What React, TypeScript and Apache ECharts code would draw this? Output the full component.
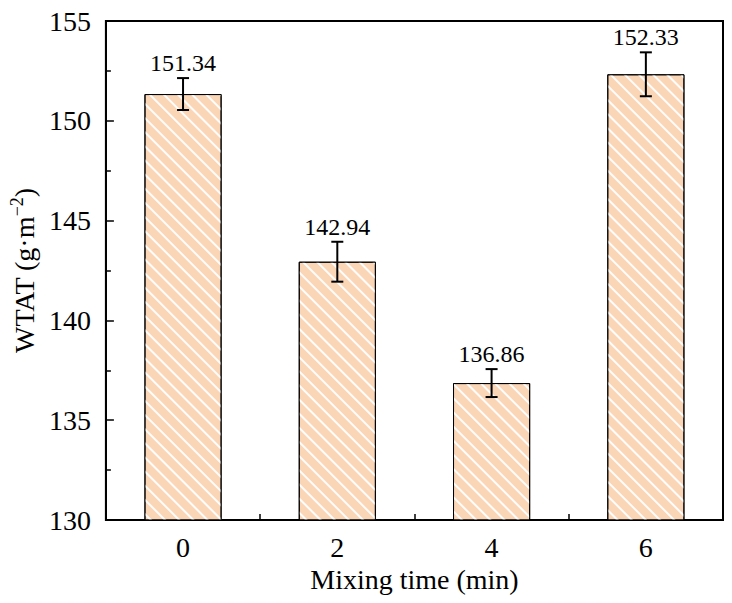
import React, { useEffect, useRef } from "react";
import * as echarts from "echarts";

const categories = ["0", "2", "4", "6"];
const values = [151.34, 142.94, 136.86, 152.33];
const errors = [0.8, 1.0, 0.7, 1.1];
const valueLabels = ["151.34", "142.94", "136.86", "152.33"];
const yTicks = { min: 130, max: 155, interval: 5 };

const FONT = "'Liberation Serif', 'Times New Roman', serif";

export default function App() {
  const ref = useRef<HTMLDivElement>(null);
  useEffect(() => {
    if (!ref.current) return;
    const chart = echarts.init(ref.current, undefined, { renderer: "svg" });
    const errData = values.map((v, i) => [i, v, errors[i]]);
    chart.setOption({
      animation: false,
      backgroundColor: "#fff",
      grid: {
        left: 105,
        right: 9,
        top: 21,
        bottom: 83,
        show: true,
        borderColor: "#000",
        borderWidth: 2,
        backgroundColor: "transparent",
      },
      xAxis: {
        type: "category",
        data: categories,
        boundaryGap: true,
        name: "Mixing time (min)",
        nameLocation: "middle",
        nameGap: 44,
        nameTextStyle: { fontFamily: FONT, fontSize: 28, color: "#000" },
        axisLine: { show: true, lineStyle: { color: "#000", width: 2 } },
        axisTick: { show: true, inside: true, length: 6, alignWithLabel: false, lineStyle: { color: "#000", width: 1.5 } },
        axisLabel: { fontFamily: FONT, fontSize: 28, color: "#000", margin: 13 },
        splitLine: { show: false },
      },
      yAxis: {
        type: "value",
        min: yTicks.min,
        max: yTicks.max,
        interval: yTicks.interval,
        name: "WTAT (g·m{sup|−2})",
        nameLocation: "middle",
        nameGap: 60,
        nameRotate: 90,
        nameTextStyle: {
          fontFamily: FONT,
          fontSize: 28,
          color: "#000",
          rich: {
            sup: { fontFamily: FONT, fontSize: 18, color: "#000", padding: [0, 0, 14, 0] },
          },
        },
        axisLine: { show: true, lineStyle: { color: "#000", width: 2 } },
        axisTick: { show: true, inside: true, length: 8, lineStyle: { color: "#000", width: 1.5 } },
        minorTick: { show: true, splitNumber: 2, length: 5, lineStyle: { color: "#000", width: 1.5 } },
        axisLabel: { fontFamily: FONT, fontSize: 28, color: "#000", margin: 15 },
        splitLine: { show: false },
        minorSplitLine: { show: false },
      },
      series: [
        {
          type: "bar",
          data: values,
          barWidth: "50%",
          itemStyle: {
            color: "#FAD6B7",
            borderColor: "#000",
            borderWidth: 1,
            decal: {
              symbol: "rect",
              symbolSize: 1,
              dashArrayX: [1, 0],
              dashArrayY: [1.5, 7.5],
              rotation: Math.PI / 4,
              color: "rgba(255,255,255,0.95)",
            },
          },
          z: 2,
        },
        {
          type: "custom",
          data: errData,
          z: 5,
          renderItem: (params: any, api: any) => {
            const idx = api.value(0);
            const v = api.value(1);
            const e = api.value(2);
            const hi = api.coord([idx, v + e]);
            const lo = api.coord([idx, v - e]);
            const hw = 6;
            const style = { stroke: "#000", lineWidth: 2 };
            return {
              type: "group",
              children: [
                { type: "line", shape: { x1: hi[0], y1: hi[1], x2: lo[0], y2: lo[1] }, style },
                { type: "line", shape: { x1: hi[0] - hw, y1: hi[1], x2: hi[0] + hw, y2: hi[1] }, style },
                { type: "line", shape: { x1: lo[0] - hw, y1: lo[1], x2: lo[0] + hw, y2: lo[1] }, style },
                {
                  type: "text",
                  x: hi[0],
                  y: hi[1] - 3,
                  style: {
                    text: valueLabels[params.dataIndex],
                    fill: "#000",
                    font: `24px ${FONT}`,
                    textAlign: "center",
                    textVerticalAlign: "bottom",
                  },
                },
              ],
            };
          },
        },
      ],
    });
    return () => chart.dispose();
  }, []);
  return (
    <div
      ref={ref}
      style={{ position: "absolute", left: 0, top: 0, width: 732, height: 603 }}
    />
  );
}
